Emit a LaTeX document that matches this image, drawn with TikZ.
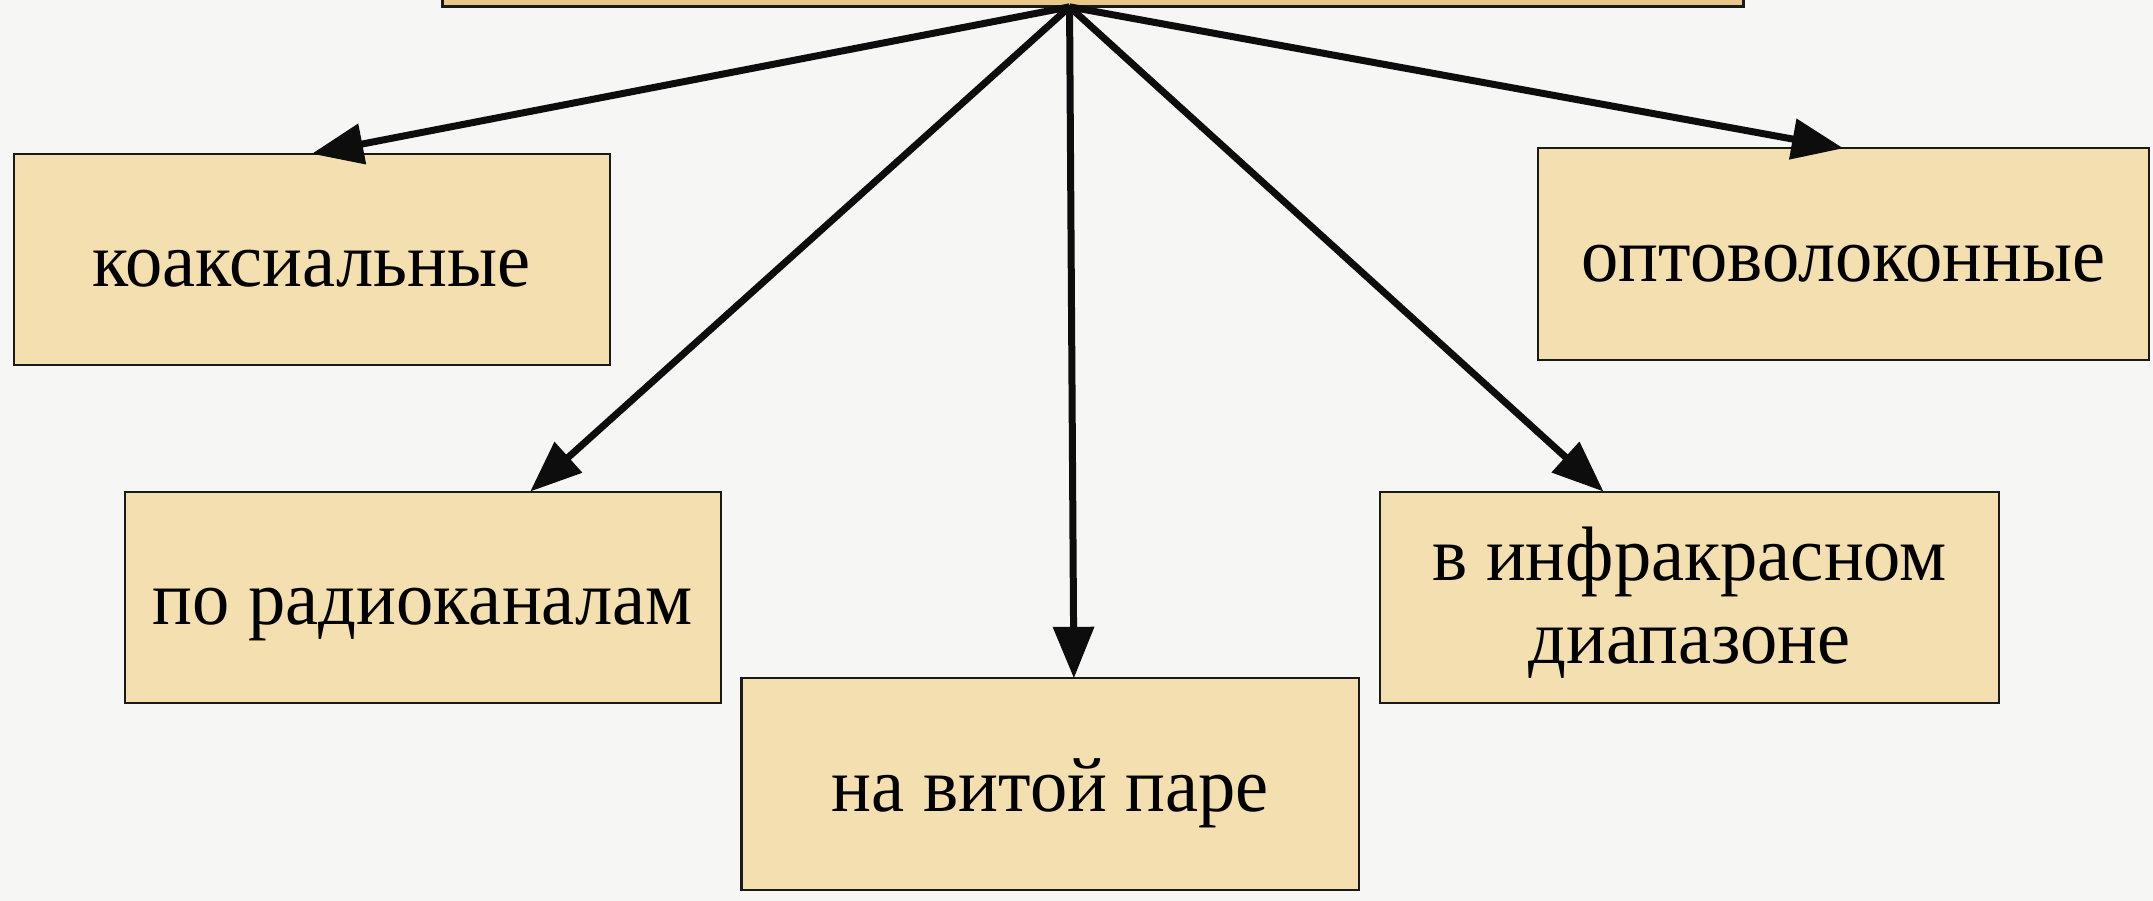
\documentclass[tikz,border=0pt]{standalone}
\usepackage{fontspec}
\setmainfont{Liberation Serif}[FakeStretch=0.965]
\usetikzlibrary{arrows.meta,calc}
\definecolor{bg}{HTML}{F6F6F5}
\definecolor{boxfill}{HTML}{F3DFAF}
\definecolor{topfill}{HTML}{E8C888}
\definecolor{edge}{HTML}{1A1A1A}
\tikzset{
  cat/.style={draw=edge, line width=0.9pt, fill=boxfill, inner sep=0pt, outer sep=0pt,
    align=center, minimum height=3.08cm, text height=1.0cm, text depth=0.2cm,
    font=\fontsize{32}{34.3}\selectfont},
  link/.style={draw=black!95, line width=2.9pt, -{Triangle[length=0.75cm,width=0.58cm]}}
}
\begin{document}
\begin{tikzpicture}[x=0.02cm,y=-0.02cm]
\fill[bg] (0,0) rectangle (1568,656);
\useasboundingbox (0,0) rectangle (1568,656);
\node[draw=edge, line width=1.2pt, fill=topfill, inner sep=0pt, outer sep=0pt,
  minimum width=18.96cm, minimum height=1.3cm] (top) at (796,-27.5) {};
\coordinate (apex) at ($(top.south west)!0.482!(top.south east)$);
\node[cat, minimum width=8.68cm] (koax) at (227,189) {коаксиальные};
\node[cat, minimum width=8.9cm] (opto) at (1342.5,185) {оптоволоконные};
\node[cat, minimum width=8.68cm] (radio) at (308,435) {по радиоканалам};
\node[cat, minimum width=9.02cm, text height=2.0cm, text depth=0.08cm] (infra) at (1230.5,435) {в инфракрасном\\диапазоне};
\node[cat, minimum width=9.0cm] (pair) at (765,571) {на витой паре};
\draw[link] (apex) -- (koax.north);
\draw[link] (apex) -- ($(radio.north west)!0.68!(radio.north east)$);
\draw[link] (apex) -- ($(pair.north west)!0.538!(pair.north east)$);
\draw[link] (apex) -- ($(infra.north west)!0.361!(infra.north east)$);
\draw[link] (apex) -- (opto.north);
\end{tikzpicture}
\end{document}
